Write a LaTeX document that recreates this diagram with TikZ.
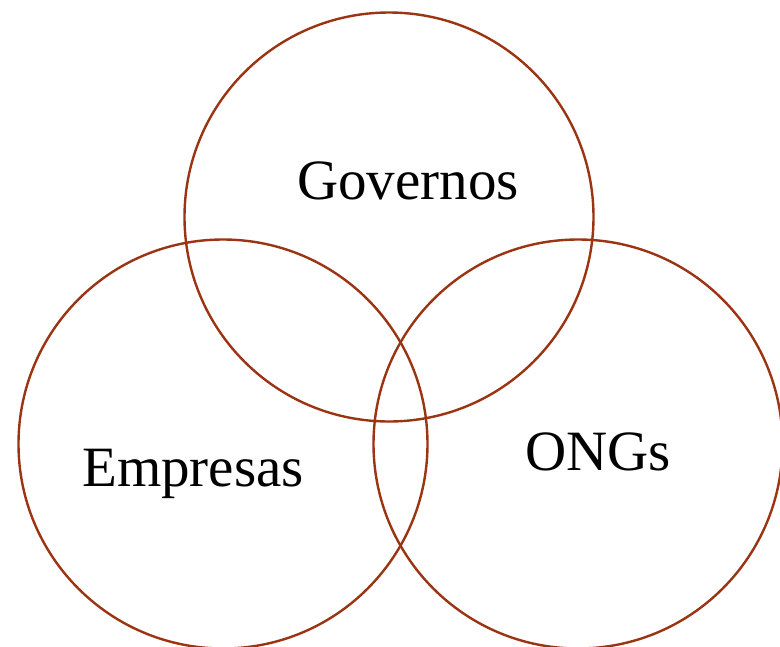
\documentclass[tikz,border=0pt]{standalone}
\usepackage{fontspec}
\setmainfont{Liberation Serif}
\definecolor{ring}{HTML}{9A3412}
\begin{document}
\begin{tikzpicture}[x=1pt,y=-1pt,
  ring/.style={draw=ring,line width=2.4pt,circle,minimum size=409pt,inner sep=0pt},
  lbl/.style={anchor=base,inner sep=0pt,font=\fontsize{57}{60}\selectfont}]
\useasboundingbox (0,0) rectangle (780,646);
\node[ring] (gov) at (389,217) {};
\node[ring] (emp) at (223,444) {};
\node[ring] (ong) at (578,444) {};
\node[lbl] (tg) at (408,199) {Governos};
\node[lbl] (te) at (193,486) {Empresas};
\node[lbl] (to) at (598,470) {ONGs};
\end{tikzpicture}
\end{document}
